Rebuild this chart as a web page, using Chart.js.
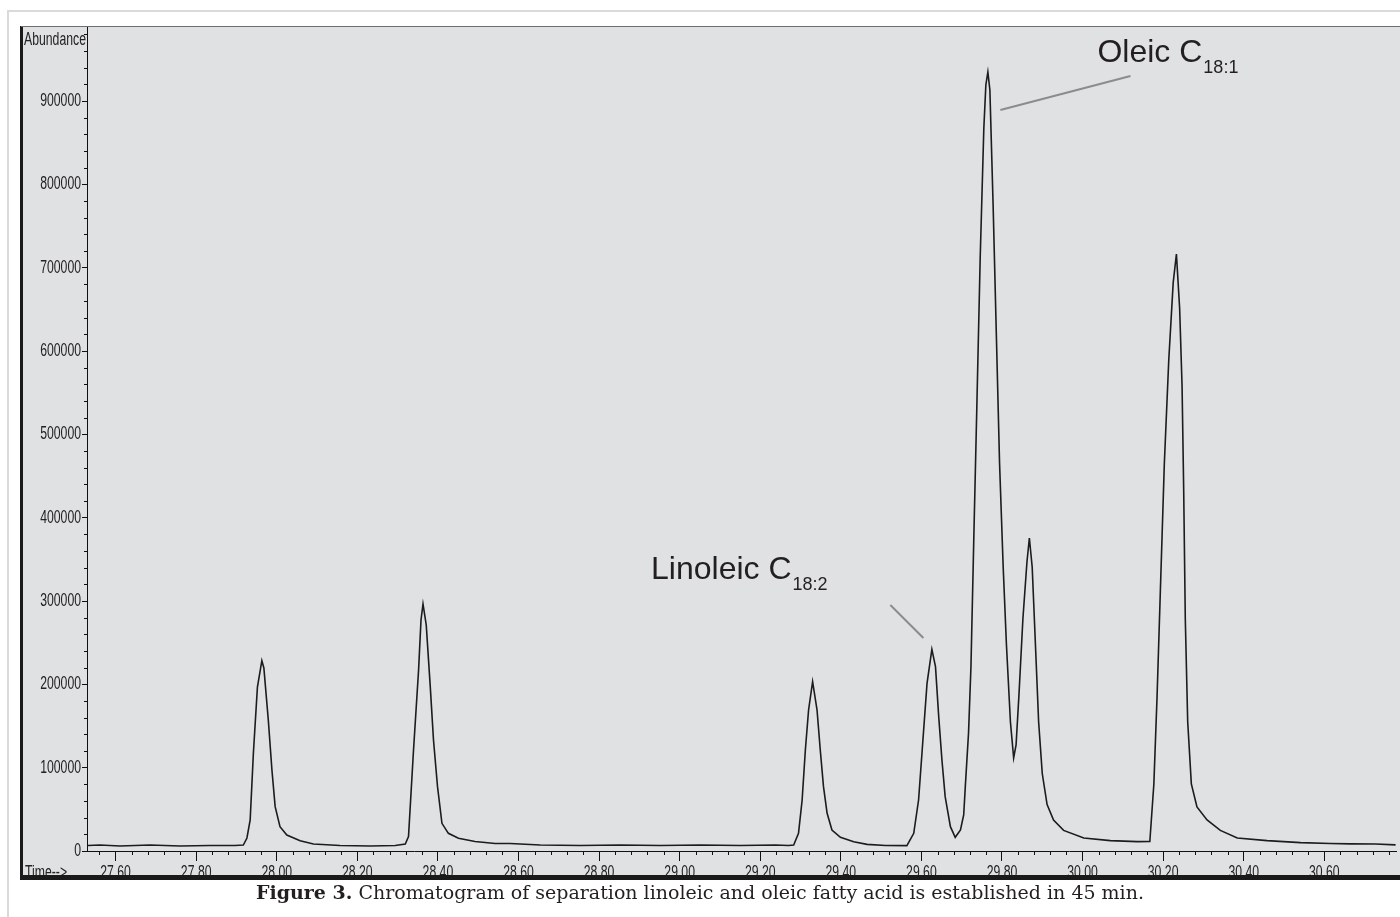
<!DOCTYPE html>
<html><head><meta charset="utf-8">
<script src="https://cdn.jsdelivr.net/npm/chart.js@4/dist/chart.umd.min.js"></script>
<style>
html,body{margin:0;padding:0;background:#fff;width:1400px;height:917px;overflow:hidden;}
#wrap{position:absolute;left:0;top:0;width:1400px;height:917px;}
canvas{position:absolute;left:0;top:0;}
#cap{position:absolute;left:0;width:1400px;top:880px;text-align:center;font-family:"DejaVu Serif","Liberation Serif",serif;font-size:19px;color:#231f20;line-height:24px;white-space:nowrap;}
</style></head><body>
<div id="wrap"><canvas id="c" width="1400" height="917"></canvas>
<div id="cap"><b>Figure 3.</b> Chromatogram of separation linoleic and oleic fatty acid is established in 45 min.</div></div>
<script>
// ---- data (retention time in min, abundance) ----
const times = [27.531,27.561,27.611,27.685,27.760,27.834,27.896,27.917,27.926,27.934,27.942,27.952,27.963,27.968,27.979,27.988,27.996,28.008,28.025,28.058,28.091,28.157,28.232,28.294,28.319,28.327,28.339,28.352,28.358,28.363,28.371,28.381,28.389,28.399,28.410,28.426,28.451,28.492,28.542,28.579,28.654,28.753,28.852,28.952,29.051,29.150,29.237,29.270,29.283,29.295,29.304,29.312,29.320,29.330,29.341,29.349,29.357,29.366,29.378,29.399,29.432,29.465,29.511,29.564,29.581,29.593,29.602,29.614,29.626,29.635,29.643,29.651,29.659,29.672,29.684,29.697,29.705,29.709,29.717,29.723,29.730,29.738,29.746,29.755,29.760,29.765,29.770,29.778,29.786,29.794,29.803,29.811,29.821,29.829,29.835,29.842,29.852,29.862,29.868,29.875,29.883,29.891,29.900,29.912,29.928,29.953,30.003,30.069,30.136,30.167,30.177,30.185,30.193,30.203,30.214,30.225,30.233,30.241,30.247,30.251,30.255,30.261,30.270,30.284,30.309,30.342,30.384,30.458,30.541,30.615,30.665,30.727,30.777];
const abundance = [6600,7200,6000,7200,6000,6600,6600,7200,15600,37200,117600,196800,228400,219600,157200,97200,53200,29200,19200,12400,8400,6600,6000,6600,8400,17200,117600,217200,277200,296400,271200,197200,133200,77200,33200,21200,15200,11400,9000,9000,7200,6600,7200,6600,7200,6600,7200,6600,7200,21200,61200,121200,169200,203200,169200,121200,77200,45200,25200,16400,11200,8000,6600,6400,21200,61200,121200,201200,242000,221200,161200,109200,65200,29200,16400,25200,43200,77200,141600,220800,373200,541200,712800,867600,919200,934800,913200,775200,620400,465600,340800,248400,154800,111600,127200,186000,279000,346800,375600,340800,248400,154800,93000,55800,37200,24700,15600,12400,11200,11400,80400,186000,310100,465100,589200,682100,716400,651100,558000,434000,279000,155000,80600,52800,37200,24700,15600,12400,10000,9000,8600,8400,7400];
const xMajorTicks = [27.6,27.8,28.0,28.2,28.4,28.6,28.8,29.0,29.2,29.4,29.6,29.8,30.0,30.2,30.4,30.6];
const yMajorTicks = [0,100000,200000,300000,400000,500000,600000,700000,800000,900000];
const peakLabels = ['Linoleic C','Oleic C'];
const peakSubs = ['18:2','18:1'];
const labelTimes = [28.929,30.037];
const labelAbund = [326400,946800];
const leaderFromT = [29.523,29.796];
const leaderFromA = [295200,889200];
const leaderToT = [29.605,30.119];
const leaderToA = [255600,930000];

const X_MIN = 27.529, X_MAX = 30.778, Y_MIN = 0, Y_MAX = 990000;
const TICKFONT = '18px "Liberation Sans", Arial, sans-serif';
const SQUEEZE = 0.68;

const bgPlugin = {
  id:'bg',
  beforeDraw(chart){
    const c = chart.ctx;
    c.save();
    c.fillStyle = '#ffffff'; c.fillRect(0,0,1400,917);
    c.fillStyle = '#dadada';
    c.fillRect(7,10,1393,2);
    c.fillRect(7,10,2,907);
    c.fillStyle = '#e0e1e3';
    c.fillRect(21,26,1379,854);
    c.restore();
  }
};

function squeezedText(c, txt, x, y, align, baseline){
  c.save();
  c.translate(x, y);
  c.scale(SQUEEZE, 1.0);
  c.textAlign = align; c.textBaseline = baseline;
  c.fillText(txt, 0, 0);
  c.restore();
}

const overlayPlugin = {
  id:'overlay',
  afterDraw(chart){
    const c = chart.ctx, xs = chart.scales.x, ys = chart.scales.y;
    const ca = chart.chartArea;
    c.save();
    // minor ticks
    c.strokeStyle = '#111'; c.lineWidth = 1;
    c.beginPath();
    for (let k = Math.ceil(X_MIN/0.04 - 1e-6); k*0.04 <= X_MAX; k++) {
      if (k % 5 === 0) continue;
      const px = Math.round(xs.getPixelForValue(k*0.04)) + 0.5;
      c.moveTo(px, ca.bottom); c.lineTo(px, ca.bottom + 4);
    }
    for (let k = 1; k*20000 <= Y_MAX; k++) {
      if (k % 5 === 0) continue;
      const py = Math.round(ys.getPixelForValue(k*20000)) + 0.5;
      c.moveTo(ca.left - 3, py); c.lineTo(ca.left, py);
    }
    c.stroke();
    // tick labels (condensed, from the scales' own ticks)
    c.fillStyle = '#222';
    c.font = TICKFONT;
    ys.ticks.forEach(t => {
      squeezedText(c, String(t.value), ca.left - 6, ys.getPixelForValue(t.value), 'right', 'middle');
    });
    xs.ticks.forEach(t => {
      squeezedText(c, Number(t.value).toFixed(2), xs.getPixelForValue(t.value), ca.bottom + 27, 'center', 'alphabetic');
    });
    // annotations
    c.fillStyle = '#231f20';
    for (let i = 0; i < peakLabels.length; i++) {
      const px = xs.getPixelForValue(labelTimes[i]);
      const py = ys.getPixelForValue(labelAbund[i]);
      c.font = '32px "Liberation Sans", Arial, sans-serif';
      c.textBaseline = 'alphabetic'; c.textAlign = 'left';
      c.fillText(peakLabels[i], px, py);
      const w = c.measureText(peakLabels[i]).width;
      c.font = '18px "Liberation Sans", Arial, sans-serif';
      c.fillText(peakSubs[i], px + w + 1, py + 11);
      c.strokeStyle = '#8c8c8c'; c.lineWidth = 2;
      c.beginPath();
      c.moveTo(xs.getPixelForValue(leaderFromT[i]), ys.getPixelForValue(leaderFromA[i]));
      c.lineTo(xs.getPixelForValue(leaderToT[i]), ys.getPixelForValue(leaderToA[i]));
      c.stroke();
    }
    // axis captions
    c.fillStyle = '#222';
    c.font = TICKFONT;
    squeezedText(c, 'Abundance', 24, 45, 'left', 'alphabetic');
    squeezedText(c, 'Time-->', 25, 878, 'left', 'alphabetic');
    // frame lines
    c.fillStyle = '#1a1a1a';
    c.fillRect(21, 875, 1379, 5);
    c.fillRect(20, 26, 3, 854);
    c.fillStyle = '#6e6e6e';
    c.fillRect(21, 26, 1379, 1);
    c.restore();
  }
};

new Chart(document.getElementById('c').getContext('2d'), {
  type:'line',
  data:{datasets:[{
    data: times.map((t,i)=>({x:t, y:abundance[i]})),
    borderColor:'#1c1c1c', borderWidth:1.6, pointRadius:0, tension:0, fill:false
  }]},
  options:{
    responsive:false, animation:false, devicePixelRatio:1,
    layout:{padding:{left:21, top:26, right:4, bottom:42}},
    plugins:{legend:{display:false}, tooltip:{enabled:false}},
    scales:{
      x:{
        type:'linear', min:X_MIN, max:X_MAX,
        afterBuildTicks: s => { s.ticks = xMajorTicks.map(v=>({value:v})); },
        afterFit: s => { s.height = 24; },
        ticks:{display:false, autoSkip:false, maxRotation:0},
        grid:{drawOnChartArea:false, drawTicks:true, tickLength:10, tickColor:'#111', tickWidth:1},
        border:{display:true, color:'#111', width:1}
      },
      y:{
        type:'linear', min:Y_MIN, max:Y_MAX,
        afterBuildTicks: s => { s.ticks = yMajorTicks.map(v=>({value:v})); },
        afterFit: s => { s.width = 66; },
        ticks:{display:false, autoSkip:false},
        grid:{drawOnChartArea:false, drawTicks:true, tickLength:5, tickColor:'#111', tickWidth:1},
        border:{display:true, color:'#111', width:1}
      }
    }
  },
  plugins:[bgPlugin, overlayPlugin]
});
</script>
</body></html>
